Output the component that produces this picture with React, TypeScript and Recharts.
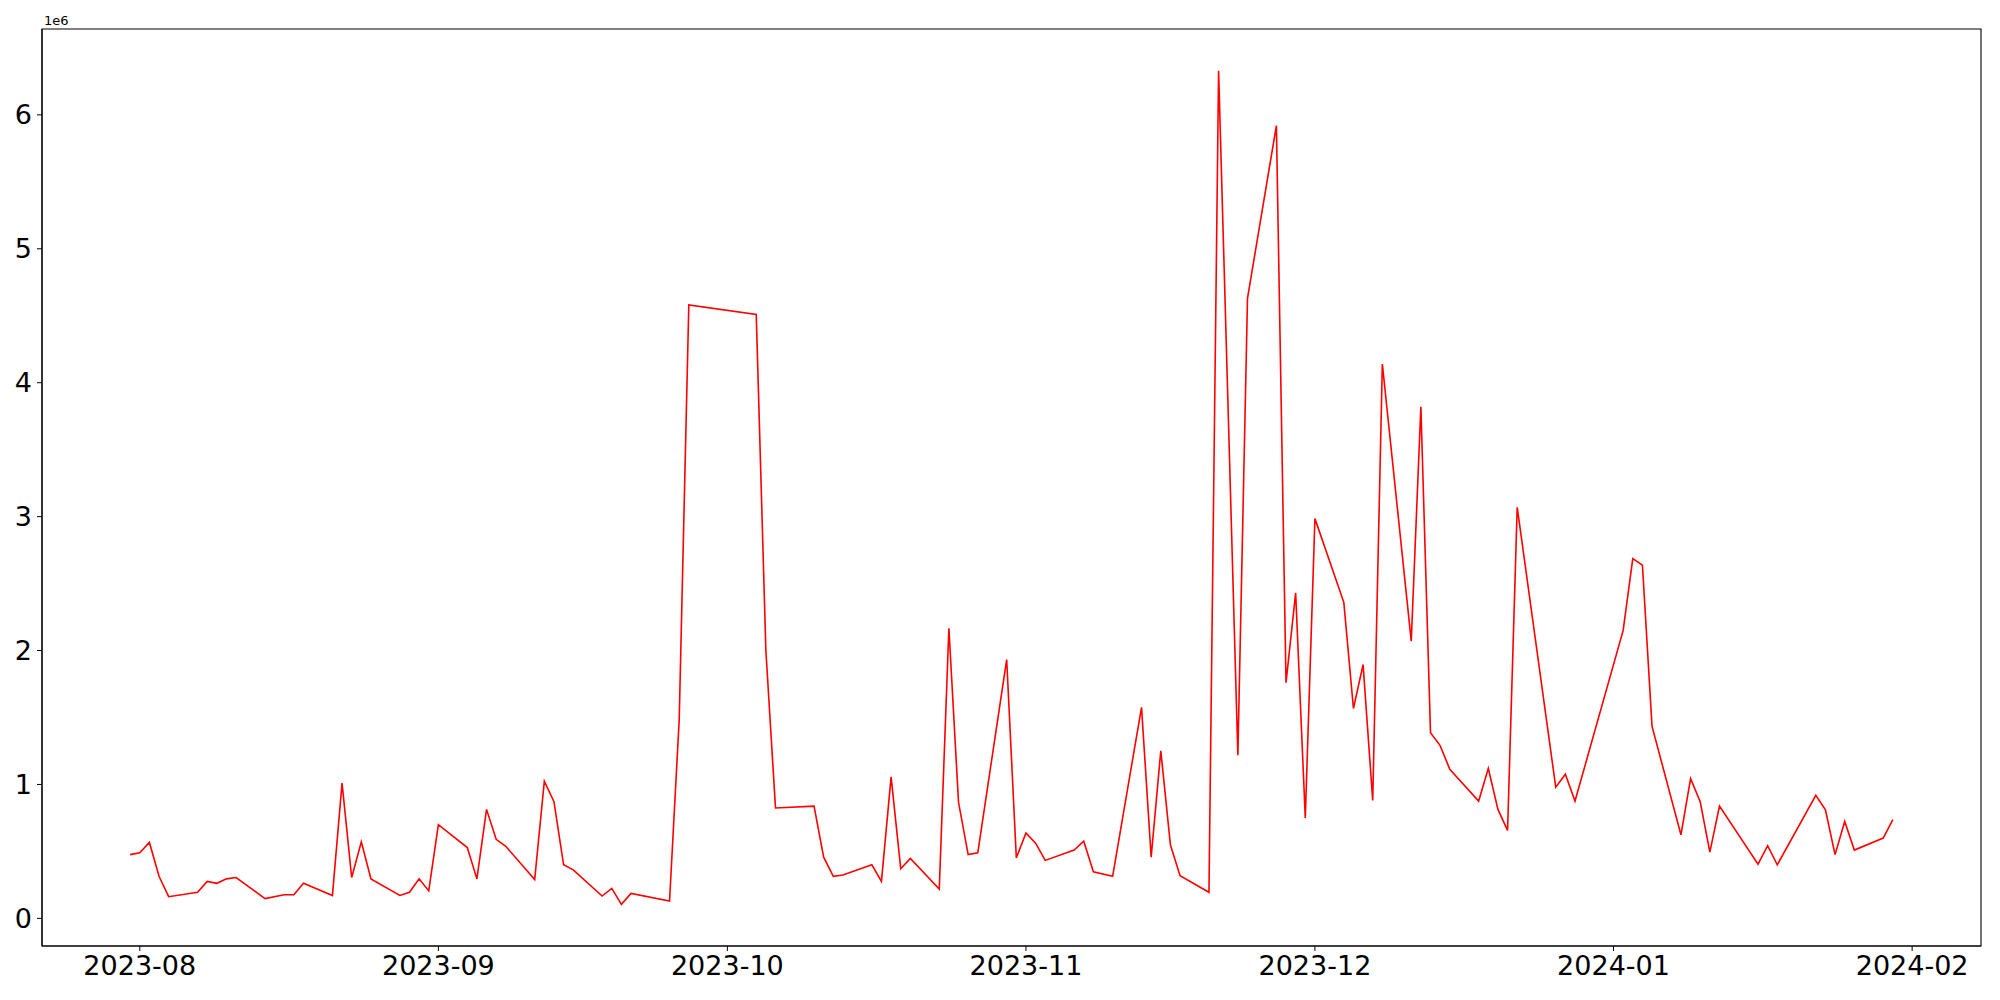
import React from 'react';
import { LineChart, Line, XAxis, YAxis, ReferenceArea } from 'recharts';

// trading days (weekdays, a few missing)
const dates = [
  '2023-07-31', '2023-08-01', '2023-08-02', '2023-08-03', '2023-08-04',
  '2023-08-07', '2023-08-08', '2023-08-09', '2023-08-10', '2023-08-11',
  '2023-08-14', '2023-08-16', '2023-08-17', '2023-08-18',
  '2023-08-21', '2023-08-22', '2023-08-23', '2023-08-24', '2023-08-25',
  '2023-08-28', '2023-08-29', '2023-08-30', '2023-08-31', '2023-09-01',
  '2023-09-04', '2023-09-05', '2023-09-06', '2023-09-07', '2023-09-08',
  '2023-09-11', '2023-09-12', '2023-09-13', '2023-09-14', '2023-09-15',
  '2023-09-18', '2023-09-19', '2023-09-20', '2023-09-21',
  '2023-09-25', '2023-09-26', '2023-09-27',
  '2023-10-04', '2023-10-05', '2023-10-06',
  '2023-10-10', '2023-10-11', '2023-10-12', '2023-10-13',
  '2023-10-16', '2023-10-17', '2023-10-18', '2023-10-19', '2023-10-20',
  '2023-10-23', '2023-10-24', '2023-10-25', '2023-10-26', '2023-10-27',
  '2023-10-30', '2023-10-31', '2023-11-01', '2023-11-02', '2023-11-03',
  '2023-11-06', '2023-11-07', '2023-11-08', '2023-11-10',
  '2023-11-13', '2023-11-14', '2023-11-15', '2023-11-16', '2023-11-17',
  '2023-11-20', '2023-11-21', '2023-11-23', '2023-11-24',
  '2023-11-27', '2023-11-28', '2023-11-29', '2023-11-30', '2023-12-01',
  '2023-12-04', '2023-12-05', '2023-12-06', '2023-12-07', '2023-12-08',
  '2023-12-11', '2023-12-12', '2023-12-13', '2023-12-14', '2023-12-15',
  '2023-12-18', '2023-12-19', '2023-12-20', '2023-12-21', '2023-12-22',
  '2023-12-26', '2023-12-27', '2023-12-28',
  '2024-01-02', '2024-01-03', '2024-01-04', '2024-01-05',
  '2024-01-08', '2024-01-09', '2024-01-10', '2024-01-11', '2024-01-12',
  '2024-01-16', '2024-01-17', '2024-01-18',
  '2024-01-22', '2024-01-23', '2024-01-24', '2024-01-25', '2024-01-26',
  '2024-01-29', '2024-01-30',
];

const volumes = [
  476000, 490000, 567000, 314000, 162000,
  195000, 276000, 262000, 295000, 305000,
  148000, 176000, 176000, 262000,
  171000, 1010000, 305000, 571000, 295000,
  171000, 195000, 295000, 205000, 700000,
  529000, 295000, 814000, 590000, 538000,
  290000, 1024000, 871000, 400000, 362000,
  167000, 224000, 105000, 186000,
  129000, 1480000, 4580000,
  4510000, 2000000, 824000,
  838000, 457000, 314000, 324000,
  400000, 276000, 1057000, 371000, 448000,
  219000, 2167000, 867000, 476000, 490000,
  1933000, 452000, 638000, 562000, 433000,
  510000, 576000, 348000, 314000,
  1576000, 457000, 1252000, 548000, 319000,
  195000, 6330000, 1218000, 4630000,
  5920000, 1760000, 2430000, 750000, 2985000,
  2360000, 1567000, 1895000, 880000, 4140000,
  2070000, 3820000, 1386000, 1290000, 1114000,
  876000, 1120000, 814000, 657000, 3070000,
  980000, 1076000, 876000,
  2150000, 2686000, 2638000, 1433000,
  624000, 1043000, 871000, 495000, 838000,
  405000, 543000, 400000,
  919000, 810000, 476000, 724000, 510000,
  600000, 738000,
];

const monthTicks = ['2023-08-01', '2023-09-01', '2023-10-01', '2023-11-01', '2023-12-01', '2024-01-01', '2024-02-01'];
const valueTicks = [0, 1e6, 2e6, 3e6, 4e6, 5e6, 6e6];

const toTime = (d: string) => Date.parse(d + 'T00:00:00Z');

const data = dates.map((d, i) => ({ t: toTime(d), v: volumes[i] }));

// matplotlib-style 5% padding on both axes
const tMin = data[0].t;
const tMax = data[data.length - 1].t;
const tPad = (tMax - tMin) * 0.05;
const vMin = Math.min(...volumes);
const vMax = Math.max(...volumes);
const vPad = (vMax - vMin) * 0.05;
const xDomain = [tMin - tPad, tMax + tPad];
const yDomain = [vMin - vPad, vMax + vPad];

const FONT = 'DejaVu Sans, sans-serif';
const tickStyle = { fill: '#000', fontSize: 27, fontFamily: FONT };

const OffsetLabel = (props: any) => {
  const vb = props.viewBox || {};
  return (
    <text x={vb.x + vb.width + 2} y={vb.y - 4} fontSize={13} fontFamily={FONT} fill="#000">
      1e6
    </text>
  );
};

export default function App() {
  return (
    <div style={{ position: 'absolute', left: 0, top: 0, width: 2000, height: 1000, background: '#fff' }}>
      <LineChart width={2000} height={1000} data={data} margin={{ top: 29, right: 19, bottom: 0, left: 0 }}>
        <XAxis
          dataKey="t"
          type="number"
          domain={xDomain}
          ticks={monthTicks.map(toTime)}
          tickFormatter={(t: number) => new Date(t).toISOString().slice(0, 7)}
          allowDataOverflow
          height={54}
          tick={tickStyle}
          tickSize={5}
          tickMargin={5}
          stroke="#000"
          axisLine={{ stroke: '#000', strokeWidth: 1.1 }}
          tickLine={{ stroke: '#000' }}
        />
        <YAxis
          type="number"
          domain={yDomain}
          ticks={valueTicks}
          tickFormatter={(v: number) => String(v / 1e6)}
          allowDataOverflow
          width={42}
          tick={tickStyle}
          tickSize={5}
          tickMargin={5}
          axisLine={{ stroke: '#000', strokeWidth: 1.1 }}
          tickLine={{ stroke: '#000' }}
          label={{ content: OffsetLabel }}
        />
        {/* frame around the plot area, like matplotlib's spines */}
        <ReferenceArea
          x1={xDomain[0]}
          x2={xDomain[1]}
          y1={yDomain[0]}
          y2={yDomain[1]}
          fill="none"
          fillOpacity={0}
          stroke="#000"
          strokeWidth={1.1}
          ifOverflow="visible"
        />
        <Line
          type="linear"
          dataKey="v"
          stroke="#ff0000"
          strokeWidth={1.6}
          dot={false}
          isAnimationActive={false}
        />
      </LineChart>
    </div>
  );
}
